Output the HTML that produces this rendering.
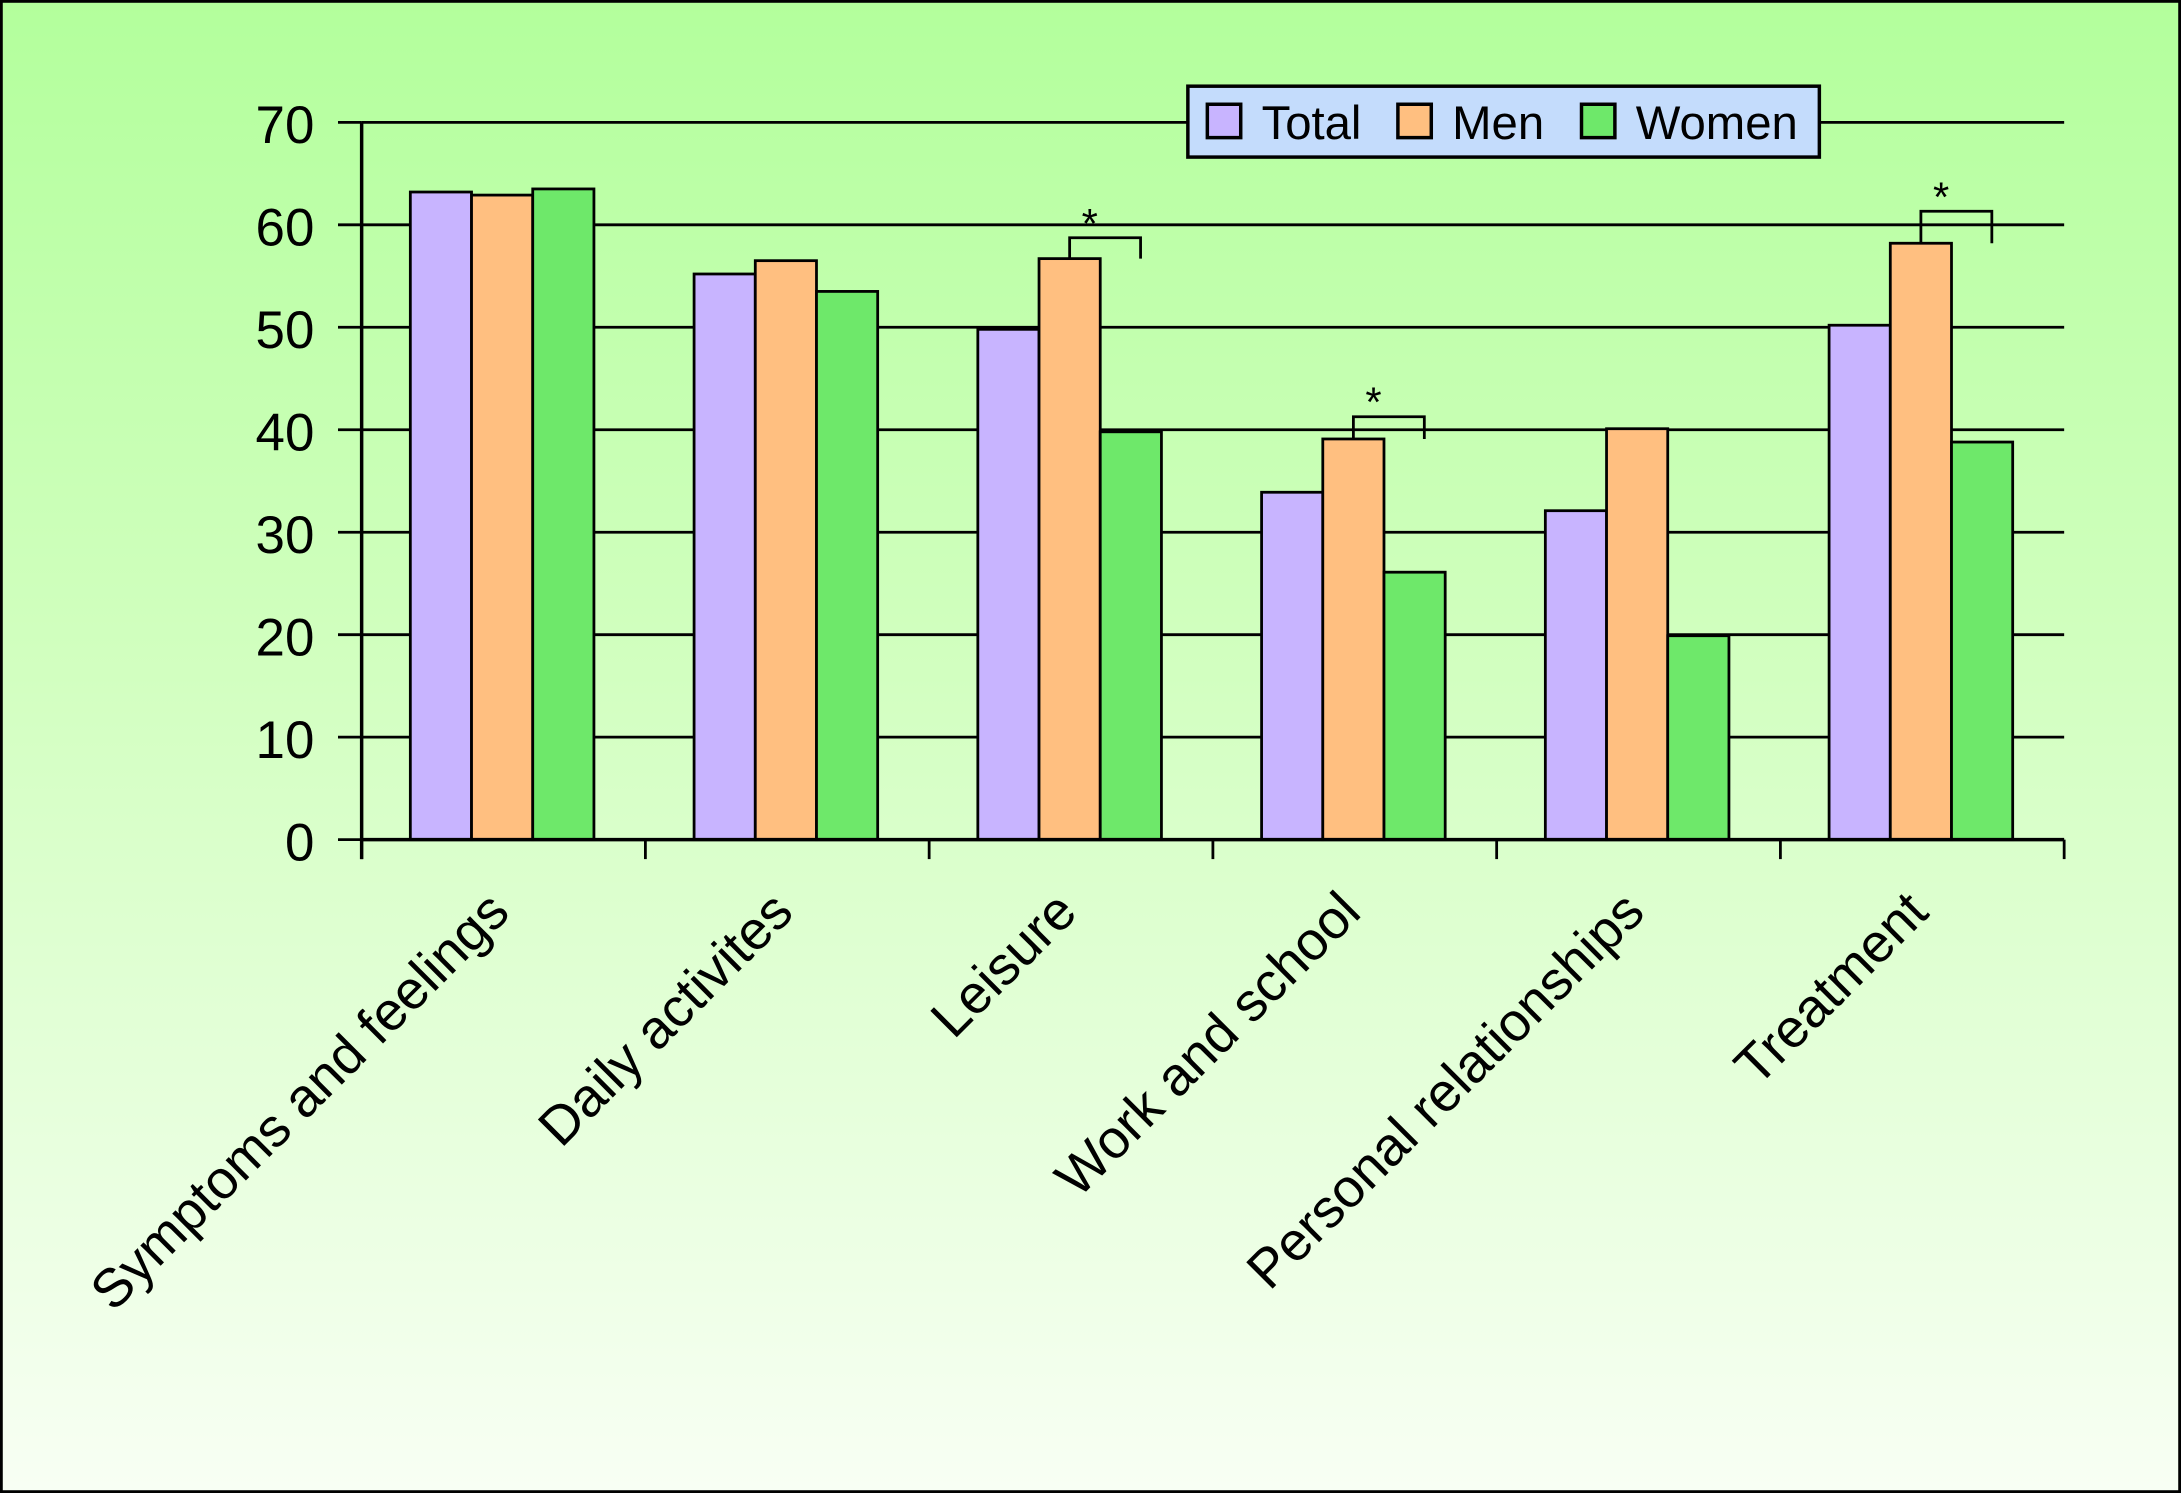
<!DOCTYPE html>
<html><head><meta charset="utf-8"><style>
html,body{margin:0;padding:0;width:2181px;height:1493px;overflow:hidden;}
svg{display:block;font-family:"Liberation Sans",sans-serif;}
</style></head><body>
<svg id="c" width="2181" height="1493" viewBox="0 0 1568 1074" preserveAspectRatio="none" xmlns="http://www.w3.org/2000/svg">
<defs><linearGradient id="bg" x1="0" y1="0" x2="0" y2="1">
<stop offset="0" stop-color="#b3ff9c"/><stop offset="0.45" stop-color="#d2ffc0"/><stop offset="1" stop-color="#f8fff4"/></linearGradient></defs>
<rect x="1" y="1" width="1566" height="1072" fill="url(#bg)" stroke="#000" stroke-width="2"/>
<g id="grid"></g><g id="bars"></g><g id="axes"></g>
<g>
<rect x="854" y="62" width="454" height="51" fill="#c4dcfc" stroke="#000" stroke-width="2.5"/>
<rect x="868" y="75" width="24" height="24" fill="#c8b4ff" stroke="#000" stroke-width="2.5"/>
<text x="907" y="100" font-size="34">Total</text>
<rect x="1005" y="75" width="24" height="24" fill="#ffbf80" stroke="#000" stroke-width="2.5"/>
<text x="1044" y="100" font-size="34">Men</text>
<rect x="1137" y="75" width="24" height="24" fill="#6ee86a" stroke="#000" stroke-width="2.5"/>
<text x="1176" y="100" font-size="34">Women</text>
</g>
</svg>
<script>
const categories=["Symptoms and feelings","Daily activites","Leisure","Work and school","Personal relationships","Treatment"];
const totalValues=[63.2,55.2,49.8,33.9,32.1,50.2];
const menValues=[62.9,56.5,56.7,39.1,40.1,58.2];
const womenValues=[63.5,53.5,39.8,26.1,19.9,38.8];
const significant=[false,false,true,true,false,true];
const bracketGap=[0,0,15,16,0,23];
const yTicks=[0,10,20,30,40,50,60,70];
const NS="http://www.w3.org/2000/svg";
const x0=260,x1=1484,yb=604,yt=88,ymax=70;
const cw=(x1-x0)/categories.length;
function y(v){return yb-(v/ymax)*(yb-yt);}
function mk(t,a,p){const e=document.createElementNS(NS,t);for(const k in a)e.setAttribute(k,a[k]);p.appendChild(e);return e;}
const grid=document.getElementById('grid'),bars=document.getElementById('bars'),axes=document.getElementById('axes');
yTicks.forEach(v=>{
 if(v>0){const g=mk('line',{x1:x0,x2:x1,y1:y(v),y2:y(v),stroke:'#000','stroke-width':2},grid);
 
 }
 const tk=mk('line',{x1:x0-17,x2:x0,y1:y(v),y2:y(v),stroke:'#000','stroke-width':2},axes);
 
 
 const t=mk('text',{x:x0-34,y:y(v)+15,'font-size':38,'text-anchor':'end'},axes);t.textContent=v;
 
 
});
const series=[[totalValues,'#c8b4ff','total'],[menValues,'#ffbf80','men'],[womenValues,'#6ee86a','women']];
const bw=44,off=35;
categories.forEach((c,i)=>{
 const cx=x0+i*cw;
 series.forEach((s,j)=>{
  const v=s[0][i];
  const r=mk('rect',{x:cx+off+j*bw,y:y(v),width:bw,height:yb-y(v),fill:s[1],stroke:'#000','stroke-width':2},bars);
  
  
 });
 if(significant[i]){
  const mx=cx+off+bw*1.5,wx=cx+off+bw*2.5+7,ey=y(menValues[i]),by=ey-bracketGap[i];
  const p=mk('path',{d:`M${mx} ${ey} V${by} H${wx} V${ey}`,fill:'none',stroke:'#000','stroke-width':2},bars);
  
  
  const st=mk('text',{x:(mx+wx)/2-11,y:by,'font-size':30,'text-anchor':'middle'},bars);st.textContent='*';
  
  
 }
 const tx=mk('line',{x1:cx,x2:cx,y1:yb,y2:yb+14,stroke:'#000','stroke-width':2},axes);
 
 
 const lx=cx+cw/2+6,ly=658;
 const t=mk('text',{x:lx,y:ly,'font-size':39,'text-anchor':'end',transform:`rotate(-45 ${lx} ${ly})`},axes);t.textContent=c;
 
 
});
const lt=mk('line',{x1:x1,x2:x1,y1:yb,y2:yb+14,stroke:'#000','stroke-width':2},axes);


const ya=mk('line',{x1:x0,x2:x0,y1:yt,y2:yb+14,stroke:'#000','stroke-width':2.5},axes);


const xa=mk('line',{x1:x0,x2:x1,y1:yb,y2:yb,stroke:'#000','stroke-width':2.5},axes);


</script>
</body></html>
